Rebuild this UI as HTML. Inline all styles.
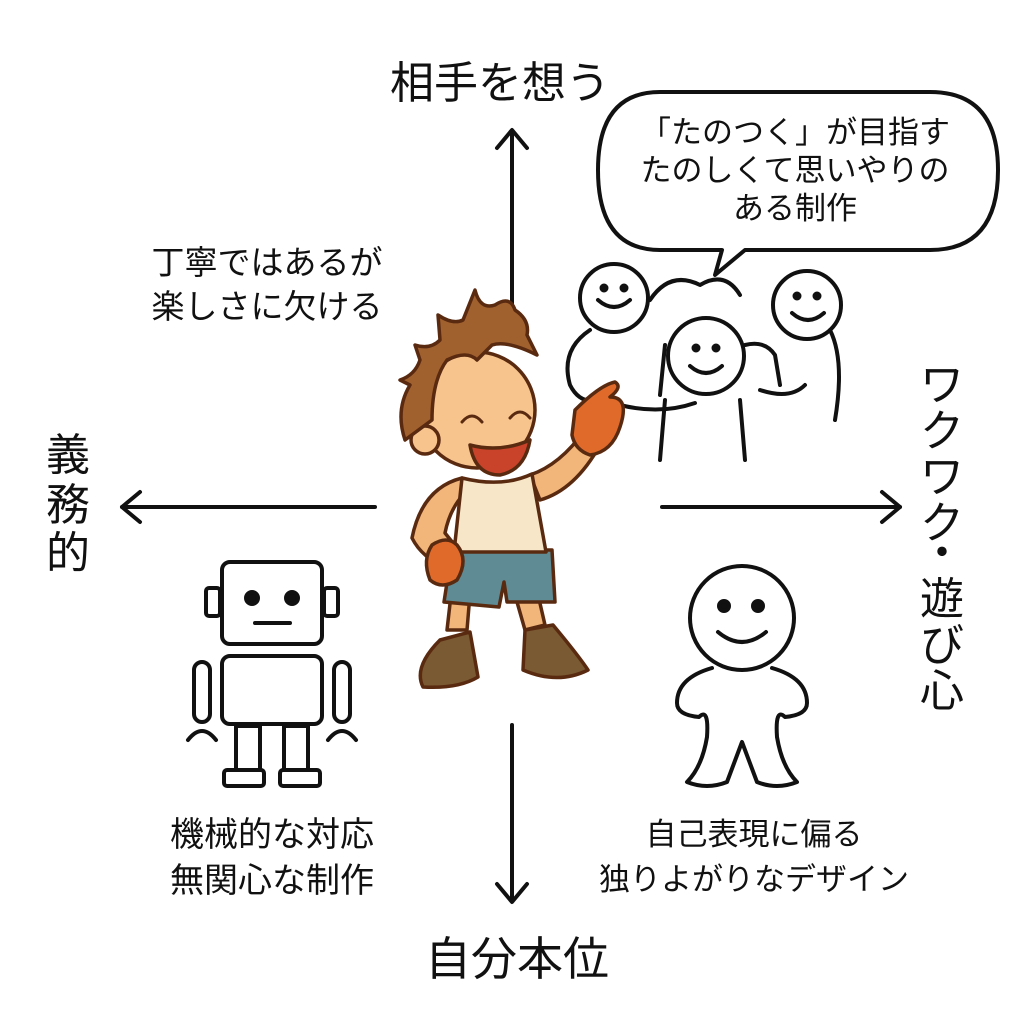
<!DOCTYPE html>
<html><head><meta charset="utf-8"><style>
html,body{margin:0;padding:0;background:#fff;}
svg{display:block}
text{font-family:"Liberation Sans","Noto Sans CJK JP",sans-serif;fill:#111}
</style></head><body>
<svg width="1023" height="1023" viewBox="0 0 1023 1023" xmlns="http://www.w3.org/2000/svg">
<g stroke="#111" stroke-width="4" fill="none" stroke-linecap="round" stroke-linejoin="round">
<line x1="512" y1="132" x2="512" y2="318"/>
<polyline points="497,148 512,130 527,148"/>
<line x1="512" y1="725" x2="512" y2="900"/>
<polyline points="497,884 512,902 527,884"/>
<line x1="375" y1="507" x2="122" y2="507"/>
<polyline points="140,492 122,507 140,522"/>
<line x1="662" y1="507" x2="900" y2="507"/>
<polyline points="882,492 900,507 882,522"/>
<path d="M660,92 L930,92 Q998,92 998,170 Q998,250 930,250 L745,250 L715,275 L722,250 L660,250 Q598,250 598,170 Q598,92 660,92 Z" fill="#fff"/>
<circle cx="614" cy="298" r="34"/>
<path d="M598,300 q16,14 32,0" /><circle cx="604" cy="288" r="2.5" fill="#111"/><circle cx="624" cy="288" r="2.5" fill="#111"/>
<circle cx="807" cy="305" r="34"/>
<path d="M792,313 q16,14 32,0"/><circle cx="797" cy="296" r="2.5" fill="#111"/><circle cx="817" cy="296" r="2.5" fill="#111"/>
<path d="M650,300 q20,-30 50,-15 q25,-15 40,10"/>
<circle cx="706" cy="356" r="38"/>
<path d="M690,366 q16,14 32,0"/><circle cx="696" cy="348" r="2.5" fill="#111"/><circle cx="716" cy="348" r="2.5" fill="#111"/>
<path d="M590,330 q-30,20 -20,55 q10,20 30,15"/>
<path d="M830,330 q15,30 5,90"/>
<path d="M665,400 l-5,60 M740,400 l5,60"/>
<path d="M620,405 q40,10 75,-2 M760,390 q30,10 45,-5 M745,345 q20,-5 30,10 l5,30"/>
<path d="M665,345 l-5,50"/>
<rect x="222" y="562" width="100" height="82" rx="8"/>
<circle cx="252" cy="598" r="6" fill="#111"/><circle cx="292" cy="598" r="6" fill="#111"/>
<line x1="255" y1="623" x2="290" y2="623"/>
<rect x="206" y="588" width="14" height="28" rx="3"/><rect x="324" y="588" width="14" height="28" rx="3"/>
<rect x="222" y="656" width="100" height="68" rx="8"/>
<rect x="194" y="662" width="16" height="60" rx="8"/><rect x="334" y="662" width="16" height="60" rx="8"/>
<path d="M188,740 q14,-18 28,0 M328,740 q14,-18 28,0"/>
<rect x="236" y="726" width="24" height="44"/><rect x="284" y="726" width="24" height="44"/>
<rect x="224" y="770" width="40" height="16" rx="3"/><rect x="280" y="770" width="40" height="16" rx="3"/>
<circle cx="742" cy="618" r="52"/>
<circle cx="724" cy="606" r="5" fill="#111"/><circle cx="758" cy="606" r="5" fill="#111"/>
<path d="M718,632 q24,20 48,0"/>
<path d="M712,668 q-35,10 -35,35 q0,12 22,14 q10,-10 8,20 q-5,30 -20,45 q20,8 40,0 l15,-40 l15,40 q20,8 40,0 q-15,-15 -20,-45 q-2,-30 8,-20 q22,-2 22,-14 q0,-25 -35,-35"/>
</g>
<g stroke="#5a2a10" stroke-width="3.5" stroke-linejoin="round">
<path d="M455,560 l-8,70 l20,0 l5,-60 Z M505,560 l20,70 l20,-5 l-15,-65 Z" fill="#f2b57a"/>
<path d="M440,640 l30,-8 l8,45 q-20,12 -55,10 q-10,-20 17,-47 Z" fill="#7a5a32"/>
<path d="M525,630 l28,-5 q25,30 35,45 q-30,15 -65,0 Z" fill="#7a5a32"/>
<path d="M452,550 l100,0 l3,52 l-48,0 l-3,-20 l-5,25 l-55,-5 Z" fill="#5e8b94"/>
<path d="M462,478 q-40,10 -50,60 q10,20 35,30 l10,-20 l-12,-15 q5,-25 20,-40 Z" fill="#f2b57a"/>
<path d="M530,475 q30,-10 55,-45 l15,15 q-25,45 -60,55 Z" fill="#f2b57a"/>
<path d="M462,478 q40,10 70,-4 l14,78 l-92,0 Z" fill="#f7e6c8"/>
<path d="M432,545 q15,-10 25,0 q12,15 0,35 q-15,10 -27,0 q-8,-20 2,-35 Z" fill="#e06a2a"/>
<path d="M575,410 q25,-25 40,-28 q8,5 -5,15 q20,0 10,30 q-8,25 -30,28 q-15,-5 -18,-20 Z" fill="#e06a2a"/>
<circle cx="477" cy="410" r="58" fill="#f7c48e"/>
<circle cx="425" cy="440" r="14" fill="#f7c48e"/>
<path d="M405,440 q-10,-30 5,-55 l-10,-5 q15,-5 20,-20 l-5,-15 q15,5 25,-5 l-2,-25 q15,10 25,5 l12,-30 q5,20 20,15 q15,-10 20,5 q15,10 12,25 l10,20 q-30,-15 -45,-10 l-15,15 q-10,-10 -30,0 q-15,20 -15,60 Z" fill="#a0612f"/>
<path d="M470,445 q30,8 60,-5 q-5,30 -30,35 q-25,0 -30,-30 Z" fill="#c9432a"/>
</g>
<g stroke="#5a2a10" stroke-width="3" fill="none" stroke-linecap="round">
<path d="M462,422 q10,-12 20,0 M510,418 q10,-12 20,0"/>
</g>
<text x="500" y="98" font-size="44" text-anchor="middle">相手を想う</text>
<text x="517" y="975" font-size="46" text-anchor="middle">自分本位</text>
<text font-size="44" text-anchor="middle"><tspan x="68" y="470">義</tspan><tspan x="68" y="520">務</tspan><tspan x="68" y="568">的</tspan></text>
<text font-size="44" text-anchor="middle"><tspan x="942" y="400">ワ</tspan><tspan x="942" y="446">ク</tspan><tspan x="942" y="492">ワ</tspan><tspan x="942" y="538">ク</tspan><tspan x="942" y="568">・</tspan><tspan x="942" y="614">遊</tspan><tspan x="942" y="660">び</tspan><tspan x="942" y="706">心</tspan></text>
<text font-size="31" text-anchor="middle"><tspan x="795" y="143">「たのつく」が目指す</tspan><tspan x="795" y="181">たのしくて思いやりの</tspan><tspan x="795" y="219">ある制作</tspan></text>
<text font-size="33" text-anchor="middle"><tspan x="267" y="274">丁寧ではあるが</tspan><tspan x="267" y="318">楽しさに欠ける</tspan></text>
<text font-size="34" text-anchor="middle"><tspan x="272" y="846">機械的な対応</tspan><tspan x="272" y="892">無関心な制作</tspan></text>
<text font-size="31" text-anchor="middle"><tspan x="754" y="845">自己表現に偏る</tspan><tspan x="754" y="890">独りよがりなデザイン</tspan></text>
</svg>
</body></html>
